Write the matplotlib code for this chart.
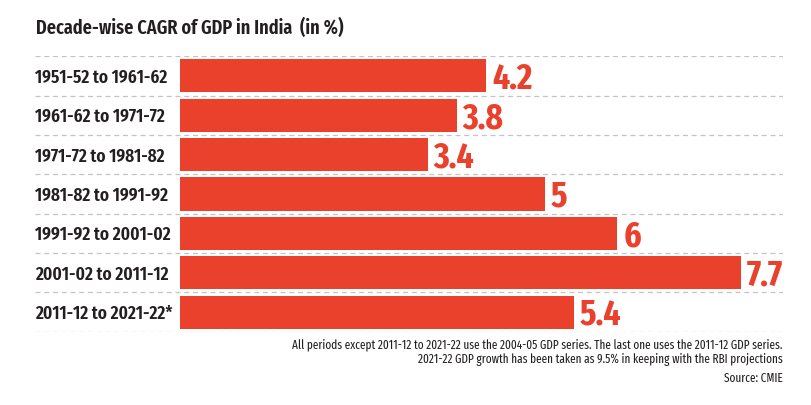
import matplotlib.pyplot as plt
from matplotlib import font_manager

# data
periods = ["1951-52 to 1961-62", "1961-62 to 1971-72", "1971-72 to 1981-82",
           "1981-82 to 1991-92", "1991-92 to 2001-02", "2001-02 to 2011-12",
           "2011-12 to 2021-22*"]
cagr = [4.2, 3.8, 3.4, 5, 6, 7.7, 5.4]
value_labels = ["4.2", "3.8", "3.4", "5", "6", "7.7", "5.4"]

title = "Decade-wise CAGR of GDP in India  (in %)"
notes = ["All periods except 2011-12 to 2021-22 use the 2004-05 GDP series. The last one uses the 2011-12 GDP series.",
         "2021-22 GDP growth has been taken as 9.5% in keeping with the RBI projections",
         "Source: CMIE"]

installed = {f.name for f in font_manager.fontManager.ttflist}


def pick(*cands):
    for c in cands:
        if c in installed:
            return c
    return "DejaVu Sans"


label_font = pick("Fira Sans Extra Condensed", "Fira Sans Condensed", "Roboto Condensed", "Barlow Semi Condensed")
value_font = pick("Fira Sans Extra Condensed", "Barlow Condensed", "Oswald", "Roboto Condensed")
note_font = pick("Fira Sans Extra Condensed", "Roboto Condensed", "Barlow Condensed", "Archivo Narrow")

red = "#EA412D"
dark = "#231F20"

fig = plt.figure(figsize=(8.11, 4.06), dpi=100)
W, H = 811, 406
ax = fig.add_axes([35 / W, 1 - 332.7 / H, (783 - 35) / W, (332.7 - 57.3) / H])

x0 = -145 / 72.9
ypos = list(range(len(periods)))
ax.barh(ypos, cagr, height=0.84, color=red, left=0)
ax.set_xlim(x0, (783 - 180) / 72.9)
ax.set_ylim(len(periods) - 0.5, -0.5)

for y in [i - 0.5 for i in range(len(periods) + 1)]:
    ax.axhline(y, color="#C4C4C4", lw=0.9, ls=(0, (4, 3)), zorder=0)

for y, (p, v, lab) in enumerate(zip(periods, cagr, value_labels)):
    ax.text(x0, y + 0.02, p, ha="left", va="center", fontsize=13.5,
            fontweight="semibold", color=dark, family=label_font)
    ax.text(v + 0.08, y + 0.05, lab, ha="left", va="center", fontsize=26,
            fontweight="bold", color=red, family=value_font)

ax.axis("off")

fig.text(36 / W, 1 - 28 / H, title, ha="left", va="center", fontsize=14.3,
         fontweight="semibold", color=dark, family=label_font)
for i, yy in enumerate([345, 360, 378]):
    fig.text(783 / W, 1 - yy / H, notes[i], ha="right", va="center", fontsize=8.8,
             color=dark, family=note_font)

fig.savefig("out.png", dpi=100, facecolor="white")
